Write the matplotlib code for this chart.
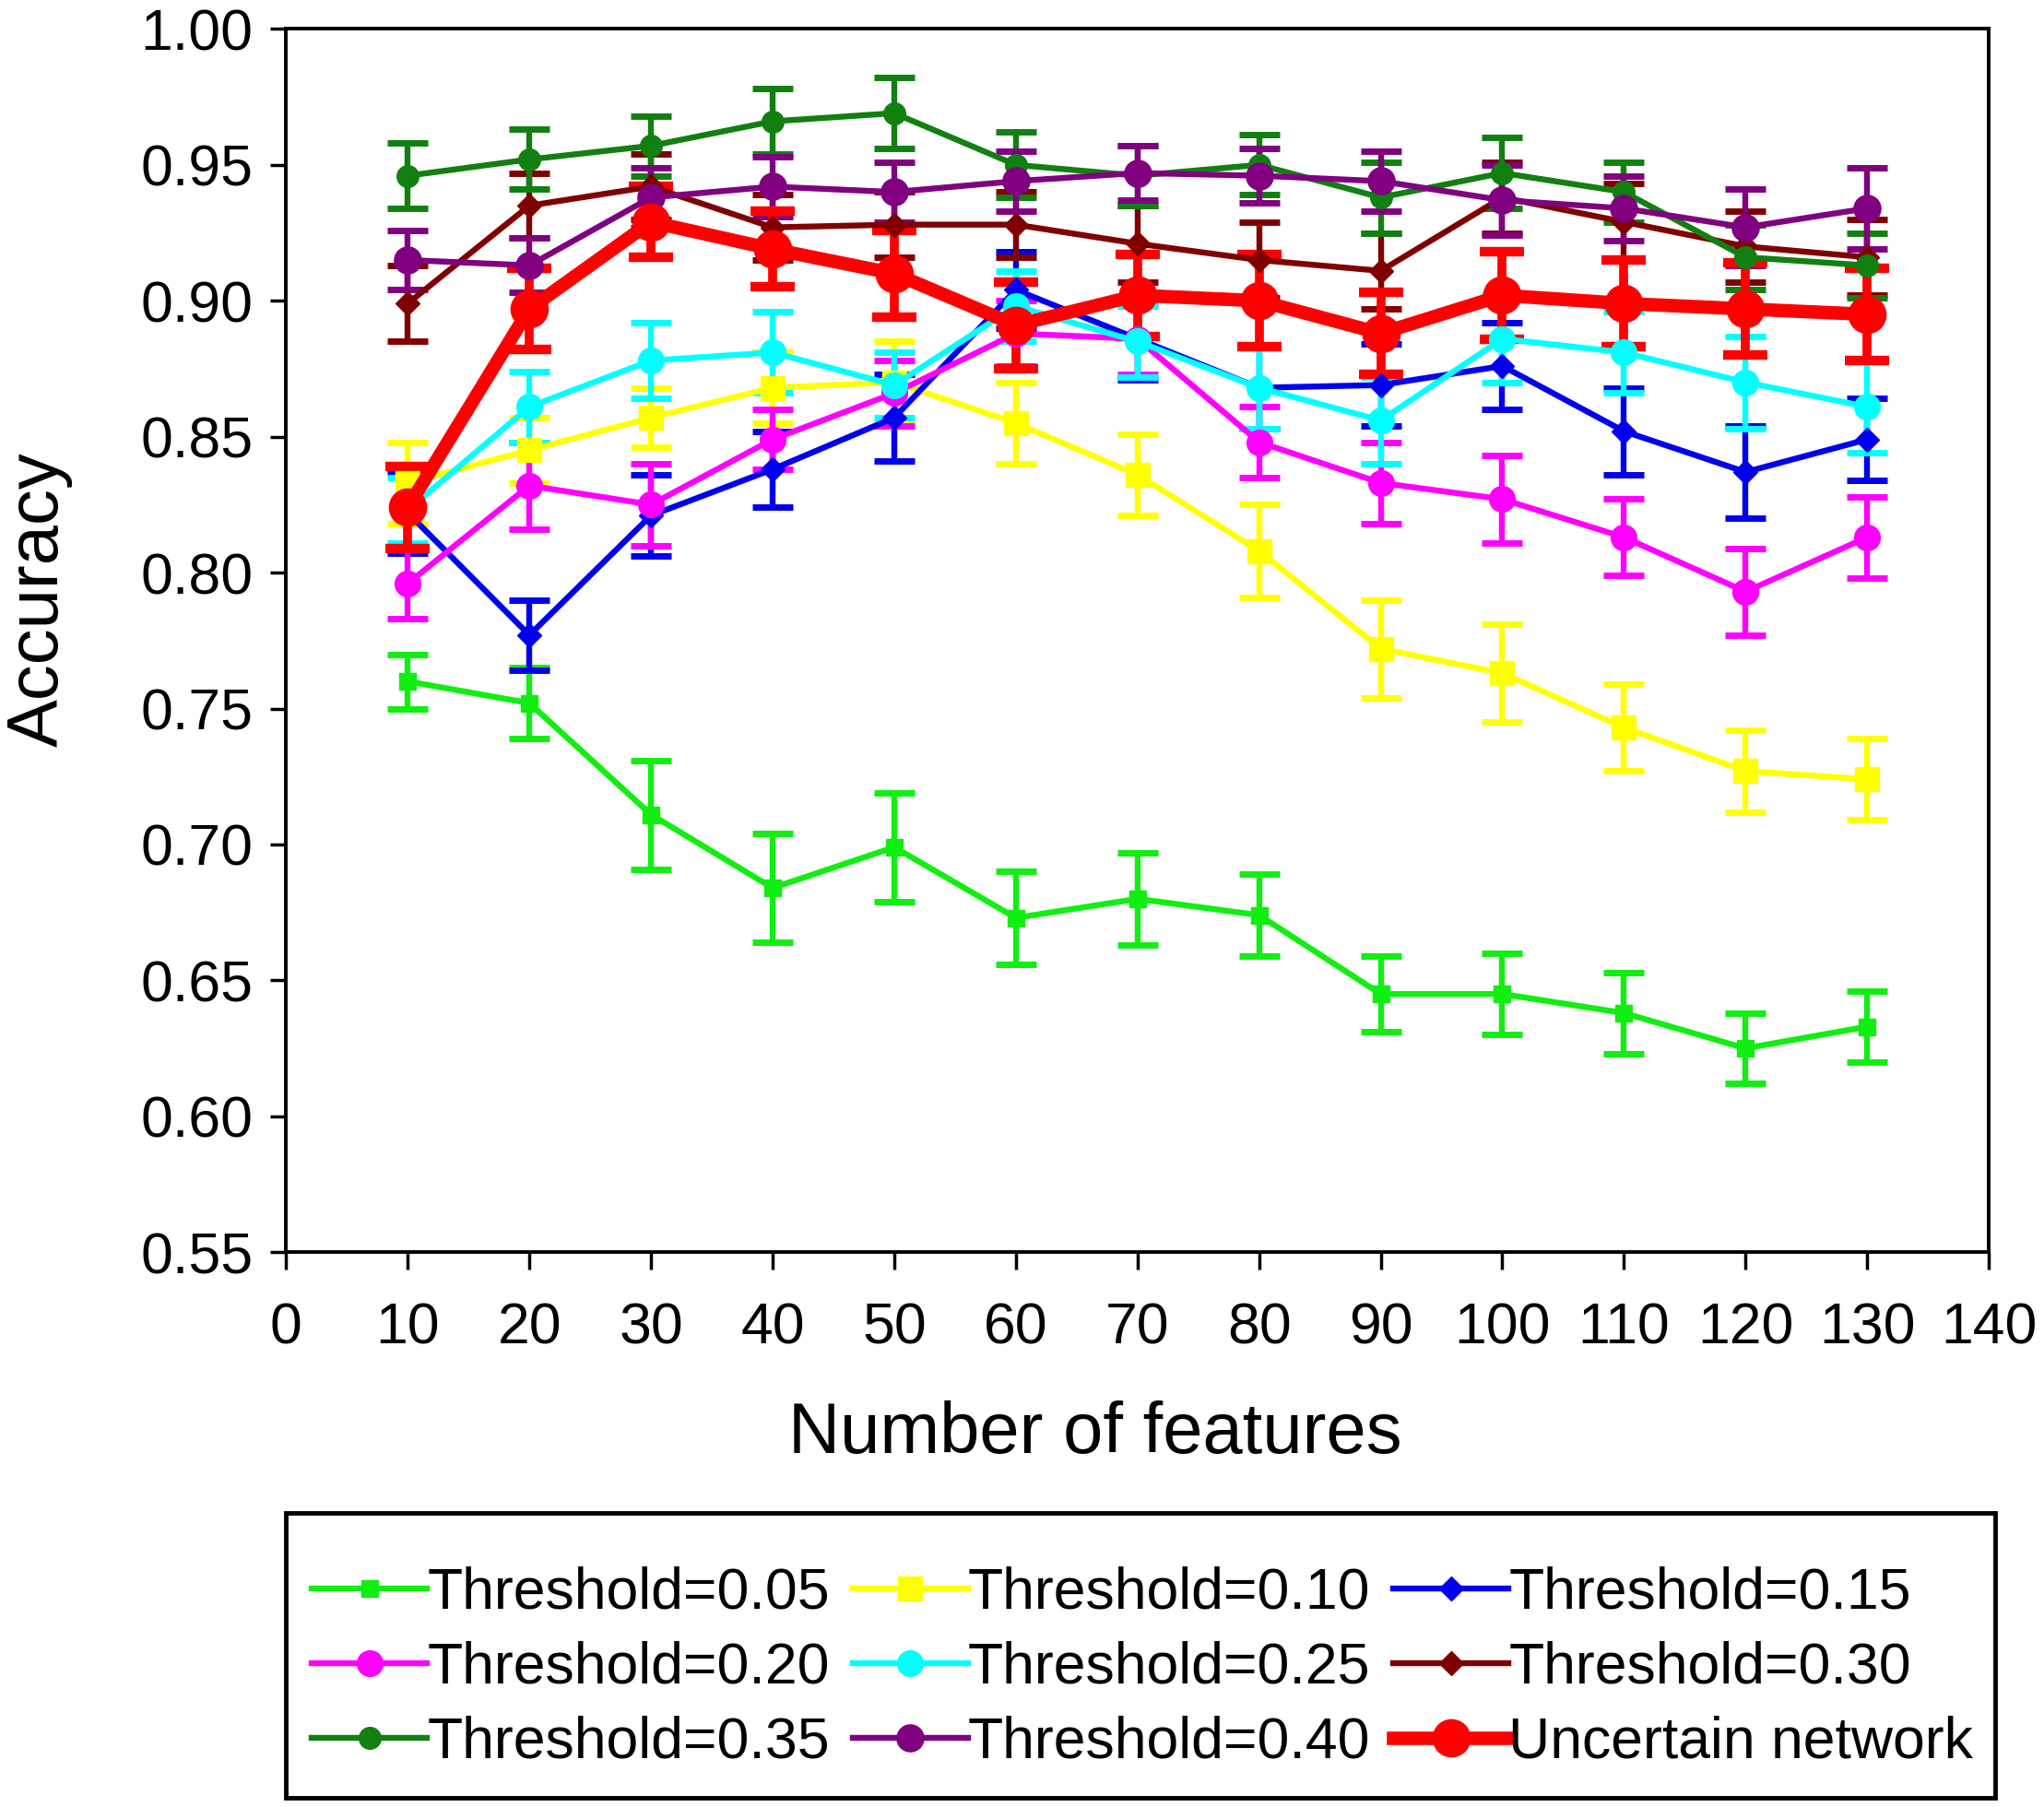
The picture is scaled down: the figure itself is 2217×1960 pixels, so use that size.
import numpy as np
import matplotlib
matplotlib.use("Agg")
import matplotlib.pyplot as plt
from matplotlib.patches import Rectangle
from matplotlib.lines import Line2D
from matplotlib.ticker import FormatStrFormatter

plt.rcParams['font.family'] = ['Liberation Sans', 'DejaVu Sans']

features = [10, 20, 30, 40, 50, 60, 70, 80, 90, 100, 110, 120, 130]

acc_005 = [0.760, 0.752, 0.711, 0.684, 0.699, 0.673, 0.680, 0.674, 0.645, 0.645, 0.638, 0.625, 0.633]
err_005 = [0.010, 0.013, 0.020, 0.020, 0.020, 0.017, 0.017, 0.015, 0.014, 0.015, 0.015, 0.013, 0.013]
acc_010 = [0.833, 0.845, 0.857, 0.868, 0.870, 0.855, 0.836, 0.808, 0.772, 0.763, 0.743, 0.727, 0.724]
err_010 = [0.015, 0.012, 0.011, 0.013, 0.015, 0.015, 0.015, 0.017, 0.018, 0.018, 0.016, 0.015, 0.015]
acc_015 = [0.822, 0.777, 0.821, 0.838, 0.857, 0.904, 0.886, 0.868, 0.869, 0.876, 0.852, 0.837, 0.849]
err_015 = [0.015, 0.013, 0.015, 0.014, 0.016, 0.014, 0.015, 0.015, 0.015, 0.016, 0.016, 0.017, 0.015]
acc_020 = [0.796, 0.832, 0.825, 0.849, 0.866, 0.888, 0.886, 0.848, 0.833, 0.827, 0.813, 0.793, 0.813]
err_020 = [0.013, 0.016, 0.015, 0.011, 0.012, 0.012, 0.013, 0.013, 0.015, 0.016, 0.014, 0.016, 0.015]
acc_025 = [0.823, 0.861, 0.878, 0.881, 0.869, 0.898, 0.885, 0.868, 0.856, 0.886, 0.881, 0.870, 0.861]
err_025 = [0.012, 0.013, 0.014, 0.015, 0.012, 0.013, 0.013, 0.015, 0.016, 0.016, 0.015, 0.017, 0.017]
acc_030 = [0.899, 0.935, 0.942, 0.927, 0.928, 0.928, 0.921, 0.915, 0.911, 0.938, 0.929, 0.920, 0.916]
err_030 = [0.014, 0.012, 0.012, 0.012, 0.012, 0.012, 0.014, 0.014, 0.014, 0.013, 0.014, 0.013, 0.014]
acc_035 = [0.946, 0.952, 0.957, 0.966, 0.969, 0.950, 0.946, 0.950, 0.938, 0.947, 0.940, 0.916, 0.913]
err_035 = [0.012, 0.011, 0.011, 0.012, 0.013, 0.012, 0.011, 0.011, 0.013, 0.013, 0.011, 0.012, 0.012]
acc_040 = [0.915, 0.913, 0.938, 0.942, 0.940, 0.944, 0.947, 0.946, 0.944, 0.937, 0.934, 0.927, 0.934]
err_040 = [0.011, 0.010, 0.011, 0.011, 0.011, 0.011, 0.010, 0.010, 0.011, 0.013, 0.012, 0.014, 0.015]
acc_unc = [0.824, 0.897, 0.929, 0.919, 0.910, 0.891, 0.902, 0.900, 0.888, 0.902, 0.899, 0.897, 0.895]
err_unc = [0.015, 0.015, 0.013, 0.014, 0.016, 0.016, 0.015, 0.017, 0.015, 0.016, 0.016, 0.017, 0.017]

labels = ["Threshold=0.05", "Threshold=0.10", "Threshold=0.15", "Threshold=0.20",
          "Threshold=0.25", "Threshold=0.30", "Threshold=0.35", "Threshold=0.40",
          "Uncertain network"]

# (values, errors, colour, marker, marker size, line width, cap size, cap thick)
series = [
    (acc_005, err_005, "#11ee11", "s", 13, 4.6, 15.5, 5),
    (acc_010, err_010, "#ffff00", "s", 19, 4.6, 15.5, 5),
    (acc_015, err_015, "#0000ee", "D", 13, 4.6, 15.5, 5),
    (acc_020, err_020, "#ff00ff", "o", 20, 4.6, 15.5, 5),
    (acc_025, err_025, "#00ffff", "o", 20, 4.6, 15.5, 5),
    (acc_030, err_030, "#800000", "D", 13, 4.6, 15.5, 5),
    (acc_035, err_035, "#118011", "o", 17, 4.6, 15.5, 5),
    (acc_040, err_040, "#800080", "o", 21, 4.6, 15.5, 5),
    (acc_unc, err_unc, "#ff0000", "o", 29, 10.5, 17, 7.5),
]

fig = plt.figure(figsize=(22.17, 19.6), dpi=100)
ax = fig.add_axes([0.140, 0.307, 0.833, 0.677])

handles = []
for (vals, errs, col, mk, ms, lw, cs, ct), lab in zip(series, labels):
    ax.errorbar(features, vals, yerr=errs, color=col, marker=mk, markersize=ms,
                linewidth=lw, elinewidth=min(lw, 7), capsize=cs, capthick=ct)
    handles.append(Line2D([], [], color=col, marker=mk, markersize=ms, linewidth=lw))

ax.set_xlim(0, 140)
ax.set_ylim(0.55, 1.00)
ax.set_xticks(np.arange(0, 141, 10))
ax.set_yticks(np.arange(0.55, 1.001, 0.05))
ax.yaxis.set_major_formatter(FormatStrFormatter('%.2f'))
ax.tick_params(axis='x', direction='out', length=14, width=2.5, pad=24, labelsize=45)
ax.tick_params(axis='y', direction='out', length=12, width=2.5, pad=14, labelsize=45)
for sp in ax.spines.values():
    sp.set_linewidth(2.8)

ax.set_xlabel("Number of features", fontsize=56)
ax.set_ylabel("Accuracy", fontsize=56)
ax.xaxis.set_label_coords(0.475, -0.121)
ax.yaxis.set_label_coords(-0.1255, 0.534)

# legend box
fig.patches.append(Rectangle((0.140, 0.005), 0.836, 0.158, transform=fig.transFigure,
                             fill=False, edgecolor='black', linewidth=3.5))
order = [0, 3, 6, 1, 4, 7, 2, 5, 8]
fig.legend([handles[i] for i in order], [labels[i] for i in order], ncol=3,
           loc='center', bbox_to_anchor=(0.559, 0.077), frameon=False, fontsize=45,
           handlelength=2.0, handletextpad=0.0, columnspacing=0.4, labelspacing=0.35)

plt.savefig("out.png", dpi=100)
